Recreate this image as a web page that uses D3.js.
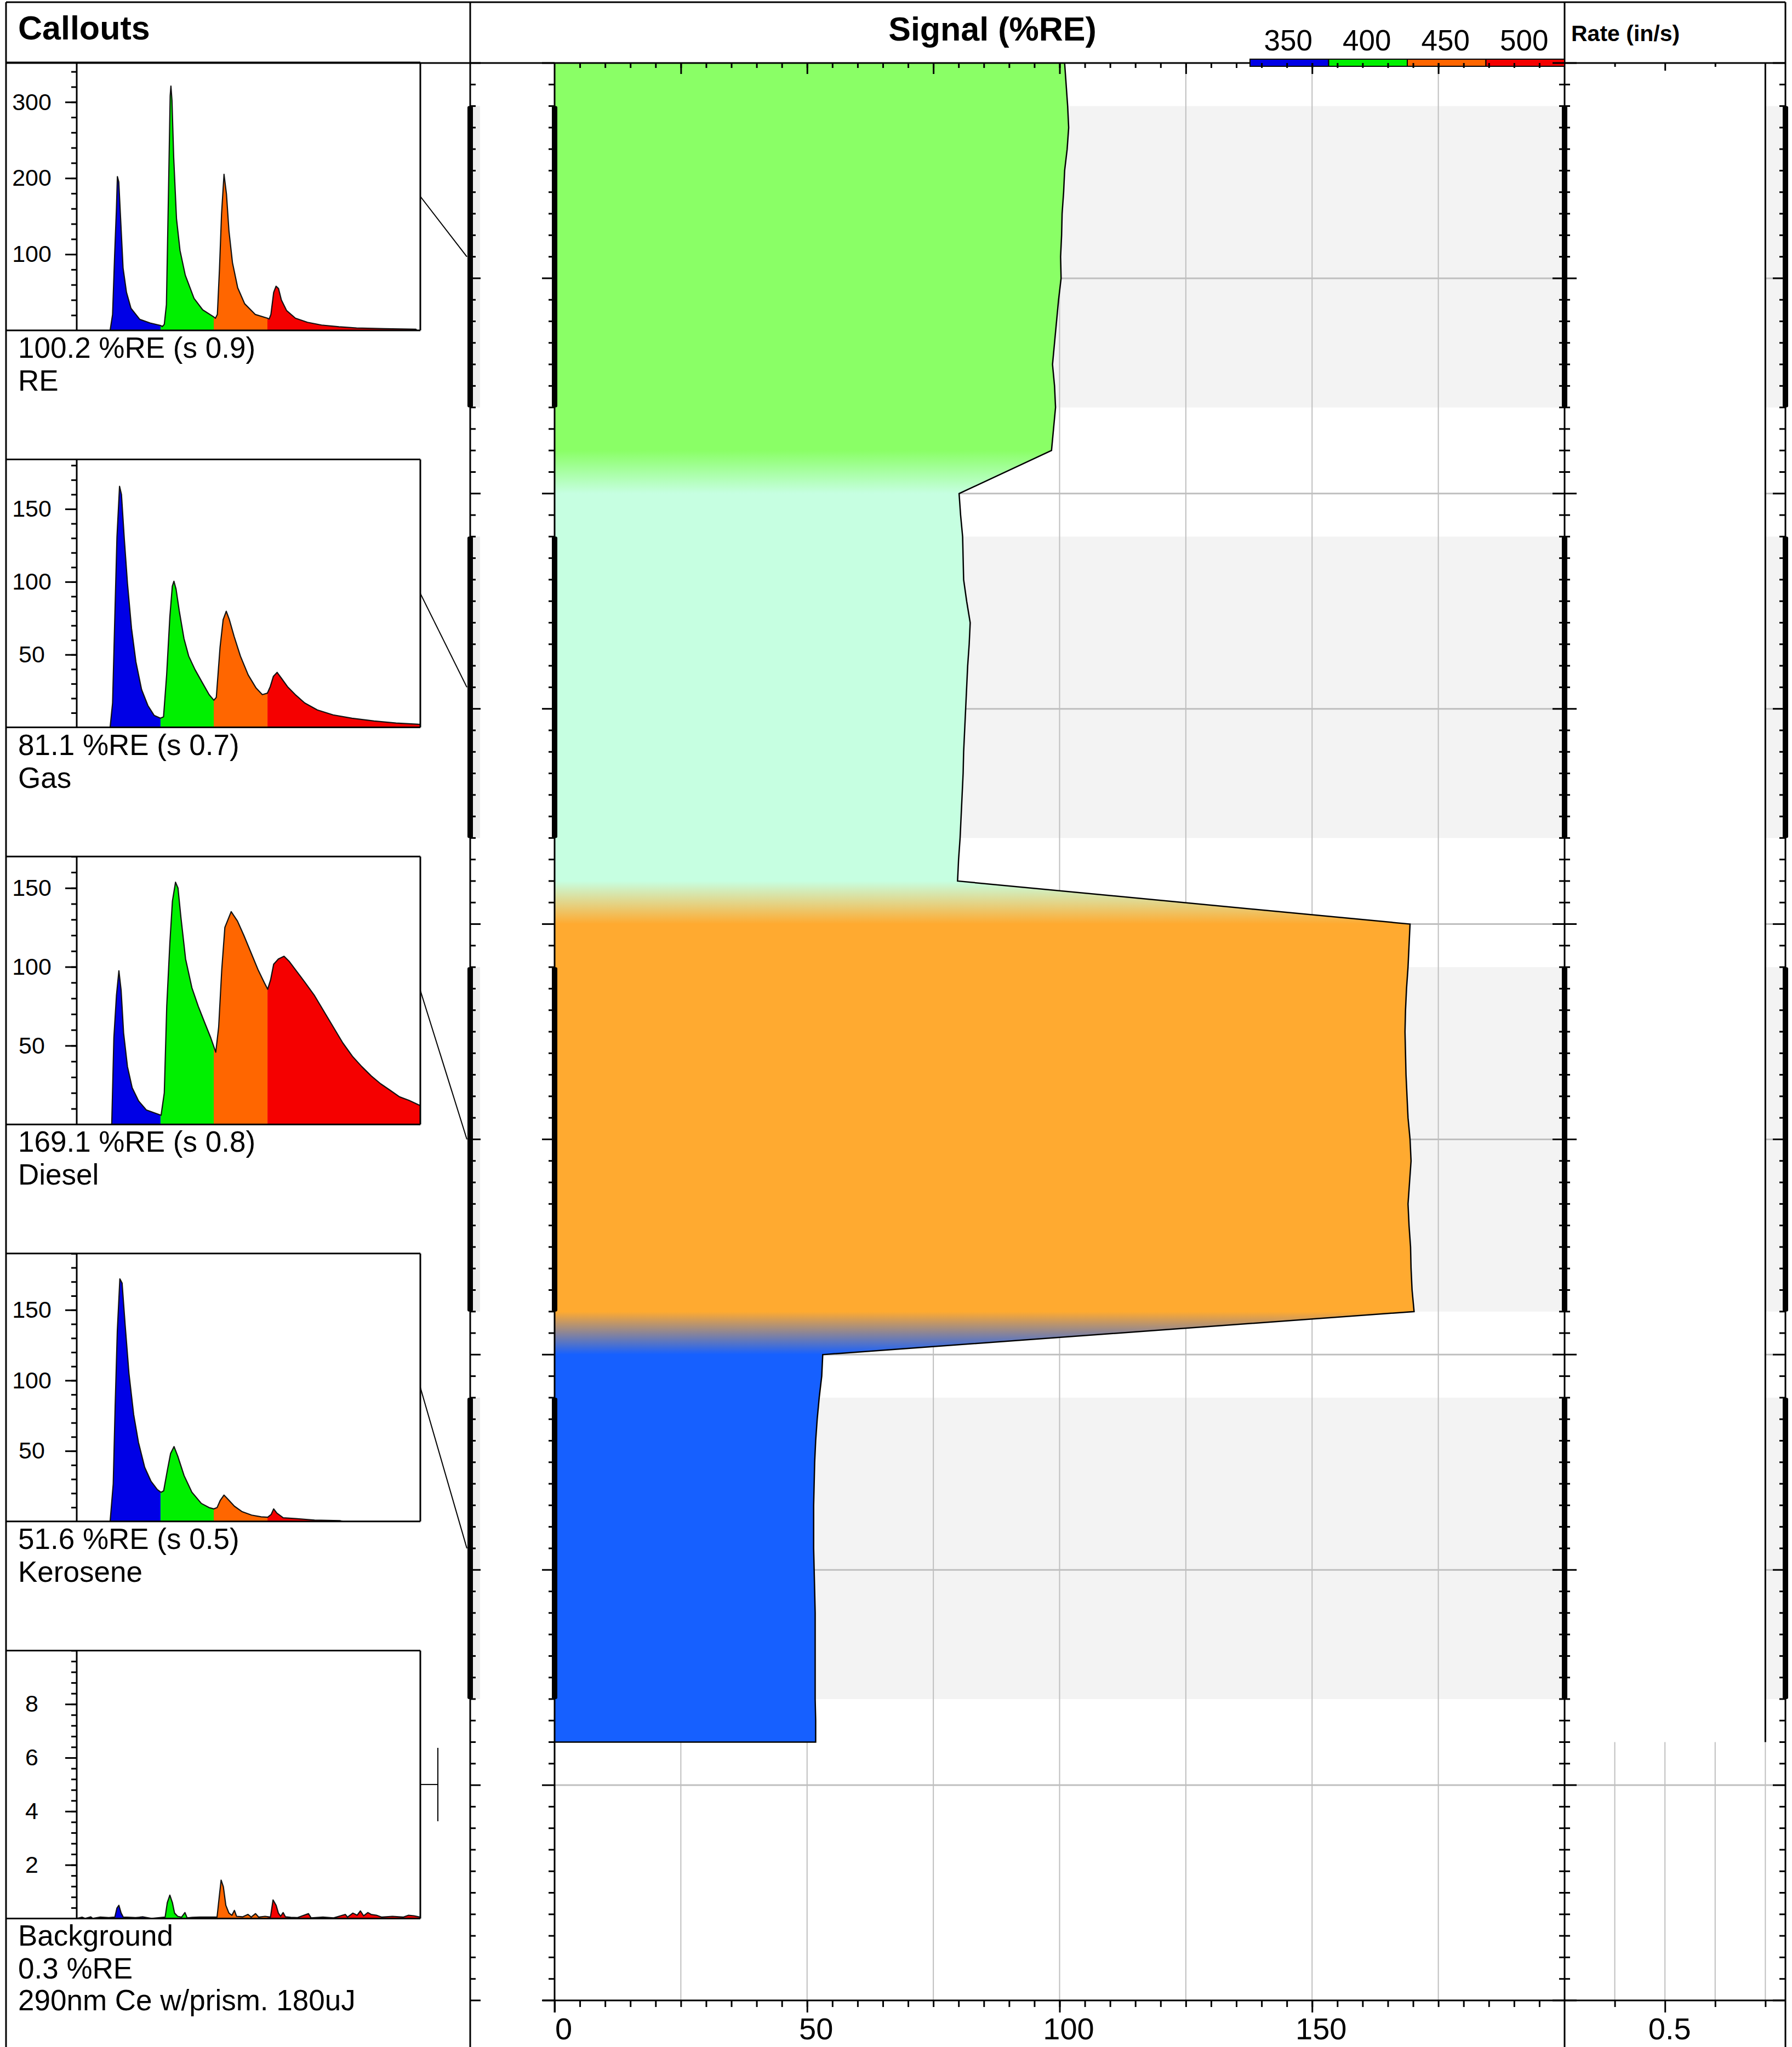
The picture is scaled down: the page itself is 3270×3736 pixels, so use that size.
<!DOCTYPE html>
<html>
<head>
<meta charset="utf-8">
<script src="https://cdn.jsdelivr.net/npm/d3@7"></script>
<style>
  html, body { margin: 0; padding: 0; background: #fff; }
  svg { display: block; font-family: "Liberation Sans", Arial, sans-serif; }
</style>
</head>
<body>
<svg id="chart" width="3270" height="3736"></svg>
<script>
// ---------------- data ----------------
// Signal log: depth index and %RE response
const signalDepths = [
  0,1,2,3,4,5,6,7,8,9,10,11,12,13,14,15,16,17,18,
  20,21,22,23,24,25,26,27,28,29,30,31,32,33,34,35,36,37,38,
  40,41,42,43,44,45,46,47,48,49,50,51,52,53,54,55,56,57,58,
  60,61,62,63,64,65,66,67,68,69,70,71,72,73,74,75,76,77,78
];
const signalValues = [
  101.0,101.3,101.6,101.8,101.5,101.0,100.8,100.5,100.4,100.2,100.3,99.8,99.4,99.0,98.6,99.0,99.2,98.8,98.4,
  80.1,80.4,80.8,80.9,81.0,81.6,82.3,82.1,81.8,81.6,81.4,81.2,81.0,80.9,80.7,80.5,80.3,80.0,79.8,
  169.4,169.2,169.0,168.7,168.5,168.4,168.5,168.6,168.8,169.0,169.4,169.6,169.3,169.0,169.2,169.5,169.6,169.8,170.2,
  53.1,52.9,52.4,52.0,51.7,51.5,51.4,51.3,51.3,51.3,51.4,51.5,51.6,51.6,51.6,51.6,51.6,51.7,51.7
];

// Fluid zones (depth ranges of each product)
const zoneTop    = [0, 20, 40, 60];
const zoneBottom = [18, 38, 58, 78];

// Callout sample intervals and results
const calloutNames  = ["RE", "Gas", "Diesel", "Kerosene"];
const sampleTop     = [2, 22, 42, 62];
const sampleBottom  = [16, 36, 58, 76];
const calloutValues = [100.2, 81.1, 169.1, 51.6];
const calloutSd     = [0.9, 0.7, 0.8, 0.5];
const backgroundValue = 0.3;
const backgroundNote  = "290nm Ce w/prism. 180uJ";

// Rate log
const rateDepths = [0, 78];
const rateValues = [0.7, 0.7];

// Waveform channels
const channelLabels = ["350", "400", "450", "500"];
const channelBreaks = [78.3, 128.0, 178.2];

// Axis tick labels
const signalTickLabels = [0, 50, 100, 150];
const rateTickLabels = [0.5];

// Callout waveforms: [time (ns), amplitude]
const reWave = [[31.2,0],[33.5,21],[35.4,98],[37.1,160],[38.0,202],[39.3,195],[41.0,147],[43.3,82],[46.5,50],[50.7,29],[58.9,14.5],[68.6,9.7],[78.3,6.5],[80.0,5],
  [81.8,8],[83.8,34],[85.7,179],[87.3,308],[88.0,321],[89.0,302],[90.6,227],[93.2,147],[96.5,105],[101.4,72.6],[109.6,42],[117.7,27],[128.0,17.7],[129.6,16],
  [131.4,21],[133.4,82],[135.3,153],[137.6,205],[139.9,179],[142.2,131],[145.5,89],[150.4,56],[156.9,35],[166.7,21],[178.2,16],[179.8,15],
  [181.4,21],[184.0,50],[186.2,58],[188.5,55],[191.2,40],[196.1,26],[204.3,16],[215.6,10.6],[228.7,7],[245.0,4.8],[261.4,3.2],[287.5,2.3],[316.9,1.6],[317.5,0]];

const gasWave = [[31.2,0],[33.5,16.8],[35.6,76],[37.6,131],[40.0,165.6],[41.8,160],[44.5,129],[47.4,99],[51.2,68],[55.3,45],[60.6,26],[66.5,15],[72.4,8.2],[78.2,6.3],
  [81.1,7.3],[84.0,36],[87.0,76],[89.3,97],[90.8,100.4],[92.8,95],[95.8,80],[100.2,61],[104.6,49],[110.5,39.7],[117.9,30],[123.7,22.5],[128.1,18.7],
  [130.4,20.6],[133.9,55],[136.8,74],[139.7,79.8],[142.6,74],[147.0,62.6],[152.9,49],[160.2,36],[167.6,27],[173.4,22.5],[178.1,23.5],
  [180.8,28],[183.7,35],[187.2,37.8],[191.0,34],[196.9,28],[204.2,22.5],[213.0,16.8],[224.8,12],[239.5,8.6],[257.2,6.3],[277.8,4.4],[298.3,3],[321.0,2.1]];

const dieselWave = [[32.7,0],[34.7,55],[37.1,81.7],[39.4,97.5],[41.5,85],[43.8,58],[47.4,36.7],[51.8,23.3],[57.7,15],[65.0,9.2],[75.3,6.7],[78.8,5.8],
  [81.8,20],[84.1,75],[87.0,115],[89.4,141.7],[92.3,153.7],[94.6,150],[97.3,131.7],[101.7,105],[107.6,86.7],[113.5,75],[119.3,65],[125.2,55],[129.9,45.8],
  [132.6,61.7],[135.5,98.3],[138.4,125],[144.3,135],[150.2,129],[156.1,120],[163.4,108],[169.3,98.3],[175.2,90],[178.4,85.8],
  [181.1,91.7],[184.0,101.7],[188.4,105],[193.7,106.7],[198.7,103.3],[206.0,96.7],[213.4,90],[222.2,81.7],[231.0,71.7],[239.8,61.7],[248.6,51.7],
  [257.5,43.3],[266.3,36.7],[275.1,30.8],[283.9,25.8],[292.7,21.7],[301.6,17.5],[310.4,15.3],[319.2,12.5],[321.0,12]];

const keroseneWave = [[31.2,0],[34.1,26.6],[35.9,81.7],[37.9,134.8],[40.3,172],[42.4,169],[45.3,138.8],[48.8,105],[53.2,75.8],[57.7,56],[63.5,38.4],[69.4,28.5],[75.3,22.6],[78.8,20.7],
  [81.2,21.7],[84.7,36.4],[87.7,48.2],[90.9,53.1],[94.4,46.3],[100.3,32.5],[107.6,20.7],[116.4,12.8],[123.7,9.8],[128.1,8.9],
  [131.1,9.8],[134.0,14.8],[137.6,18.7],[141.4,15.7],[147.3,10.8],[154.6,6.9],[163.4,4.5],[172.3,3.3],[178.4,3],
  [181.6,4.9],[184.0,8.9],[187.0,5.9],[192.9,2.6],[204.6,2],[222.2,1],[245.8,0.6],[248.3,0]];

const backgroundWave = [[0,0],[5,0.05],[8,0],[13,0.06],[15,0],[22,0.05],[30,0.03],[35.6,0.05],[37.6,0.39],[39.4,0.49],[41.5,0.2],[43.5,0.05],[50,0.04],[55,0.03],[62,0.06],[70,0],
  [82.6,0.05],[84.6,0.59],[87.0,0.87],[89.4,0.59],[91.4,0.2],[94.3,0.08],[98,0.05],[101.1,0.22],[103.2,0.02],[108,0.04],[115,0.05],[125,0.05],
  [131.1,0.05],[133.1,0.79],[134.9,1.43],[137.0,1.18],[139.3,0.49],[142.2,0.2],[145,0.12],[147.3,0.3],[149.3,0.08],[155,0.06],[160,0.15],[163,0.05],[167,0.18],[170,0.05],[176,0.08],
  [181.0,0.05],[183.4,0.69],[186.3,0.49],[188.4,0.2],[190.5,0.08],[192.8,0.22],[195,0.06],[200,0.04],[206,0.03],[216.5,0.18],[219,0.02],[230,0.05],[240,0.02],
  [251,0.15],[253,0.05],[258,0.2],[262,0.12],[265,0.28],[268,0.1],[272,0.22],[275,0.15],[280,0.12],[285,0.05],[295,0.08],[305,0.05],[310,0.12],[315,0.1],[321,0.05]];

// ---------------- styles & layout ----------------
const zoneColors    = ["#8aff66", "#c6ffe1", "#ffaa30", "#1660ff"];
const channelColors = ["#0000e6", "#00f000", "#ff6600", "#f50000"];
const gridColor  = "#bfbfbf";
const shadeColor = "#f3f3f3";
const FONT = '"Liberation Sans", Arial, sans-serif';

const W = 3270, H = 3736;
const frameLeft = 11, frameTop = 4, frameRight = 3258;
const headerBottom = 115;
const calloutRight = 858;
const signalLeft = 1012, signalRight = 2855, rateRight = 3258;
const plotBottom = 3651;

const svg = d3.select("#chart");
const defs = svg.append("defs");
svg.append("rect").attr("width", W).attr("height", H).attr("fill", "#fff");

// ---------------- scales ----------------
const x  = d3.scaleLinear().domain([0, 200]).range([signalLeft, signalRight]);
const y  = d3.scaleLinear().domain([0, 90]).range([headerBottom, plotBottom]);
const xr = d3.scaleLinear().domain([0.3, 0.74]).range([signalRight, rateRight]);

// ---------------- sample shading ----------------
const shade = svg.append("g");
sampleTop.forEach((t, i) => {
  const b = sampleBottom[i];
  shade.append("rect").attr("x", signalLeft).attr("y", y(t))
    .attr("width", signalRight - signalLeft).attr("height", y(b) - y(t)).attr("fill", shadeColor);
  shade.append("rect").attr("x", signalRight).attr("y", y(t))
    .attr("width", rateRight - signalRight).attr("height", y(b) - y(t)).attr("fill", shadeColor);
  shade.append("rect").attr("x", calloutRight + 4).attr("y", y(t))
    .attr("width", 14).attr("height", y(b) - y(t)).attr("fill", "#ececec");
});

// ---------------- grid ----------------
const grid = svg.append("g").attr("stroke", gridColor).attr("stroke-width", 2);
d3.range(25, 200, 25).forEach(v => {
  grid.append("line").attr("x1", x(v)).attr("x2", x(v)).attr("y1", headerBottom).attr("y2", plotBottom);
});
[0.4, 0.5, 0.6, 0.7].forEach(v => {
  grid.append("line").attr("x1", xr(v)).attr("x2", xr(v)).attr("y1", headerBottom).attr("y2", plotBottom);
});
d3.range(10, 90, 10).forEach(d => {
  grid.append("line").attr("x1", signalLeft).attr("x2", rateRight).attr("y1", y(d)).attr("y2", y(d))
    .attr("stroke-width", 3);
});

// ---------------- signal fill ----------------
const grad = defs.append("linearGradient").attr("id", "fluidGrad")
  .attr("gradientUnits", "userSpaceOnUse")
  .attr("x1", 0).attr("x2", 0).attr("y1", y(0)).attr("y2", y(78));
zoneTop.forEach((t, i) => {
  grad.append("stop").attr("offset", t / 78).attr("stop-color", zoneColors[i]);
  grad.append("stop").attr("offset", zoneBottom[i] / 78).attr("stop-color", zoneColors[i]);
});

const signalData = signalDepths.map((d, i) => ({ d, v: signalValues[i] }));
const signalArea = d3.area().y(p => y(p.d)).x0(() => x(0)).x1(p => x(p.v));
svg.append("path").datum(signalData).attr("d", signalArea).attr("fill", "url(#fluidGrad)");

const last = signalData[signalData.length - 1];
const signalLine = d3.line().x(p => x(p.v)).y(p => y(p.d));
svg.append("path").datum(signalData.concat([{ d: last.d, v: 0 }]))
  .attr("d", signalLine).attr("fill", "none").attr("stroke", "#000")
  .attr("stroke-width", 2.5).attr("stroke-linejoin", "miter");

// ---------------- rate track ----------------
const rateData = rateDepths.map((d, i) => ({ d, v: rateValues[i] }));
svg.append("path").datum(rateData)
  .attr("d", d3.area().y(p => y(p.d)).x0(() => xr(0.3) + 2).x1(p => xr(p.v)))
  .attr("fill", "#fff");
svg.append("path").datum(rateData)
  .attr("d", d3.line().x(p => xr(p.v)).y(p => y(p.d)))
  .attr("stroke", "#000").attr("stroke-width", 3).attr("fill", "none");

// ---------------- frame & header ----------------
const frame = svg.append("g").attr("stroke", "#000").attr("stroke-width", 3);
frame.append("line").attr("x1", frameLeft).attr("x2", frameRight).attr("y1", frameTop).attr("y2", frameTop);
frame.append("line").attr("x1", frameLeft).attr("x2", frameRight).attr("y1", headerBottom).attr("y2", headerBottom);
frame.append("line").attr("x1", frameLeft).attr("x2", frameLeft).attr("y1", frameTop).attr("y2", H);
frame.append("line").attr("x1", calloutRight).attr("x2", calloutRight).attr("y1", frameTop).attr("y2", H);
frame.append("line").attr("x1", signalLeft).attr("x2", signalLeft).attr("y1", headerBottom).attr("y2", plotBottom + 22);
frame.append("line").attr("x1", signalRight).attr("x2", signalRight).attr("y1", frameTop).attr("y2", H);
frame.append("line").attr("x1", rateRight).attr("x2", rateRight).attr("y1", frameTop).attr("y2", H);
frame.append("line").attr("x1", signalLeft - 22).attr("x2", rateRight).attr("y1", plotBottom).attr("y2", plotBottom);

svg.append("text").attr("x", 33).attr("y", 72).attr("font-size", 61).attr("font-weight", "bold")
  .attr("font-family", FONT).text("Callouts");
svg.append("text").attr("x", 1811).attr("y", 74).attr("font-size", 61).attr("font-weight", "bold")
  .attr("text-anchor", "middle").attr("font-family", FONT).text("Signal (%RE)");
svg.append("text").attr("x", 2867).attr("y", 75).attr("font-size", 41).attr("font-weight", "bold")
  .attr("font-family", FONT).text("Rate (in/s)");

// channel legend
const legendX = d3.scaleBand().domain(channelLabels).range([2281, signalRight]).padding(0);
const legend = svg.append("g");
channelLabels.forEach((lab, i) => {
  legend.append("rect").attr("x", legendX(lab)).attr("y", 108).attr("width", legendX.bandwidth()).attr("height", 13)
    .attr("fill", channelColors[i]).attr("stroke", "#000").attr("stroke-width", 2);
  legend.append("text").attr("x", legendX(lab) + legendX.bandwidth() / 2 - 2).attr("y", 92)
    .attr("text-anchor", "middle").attr("font-size", 53).attr("font-family", FONT).text(lab);
});

// ---------------- depth ticks & sample bars ----------------
const ticks = svg.append("g").attr("stroke", "#000").attr("stroke-width", 3);
d3.range(0, 91, 1).forEach(d => {
  const major = d % 10 === 0;
  const yy = y(d);
  ticks.append("line").attr("x1", calloutRight).attr("x2", calloutRight + (major ? 19 : 10)).attr("y1", yy).attr("y2", yy);
  ticks.append("line").attr("x1", signalLeft - (major ? 23 : 11)).attr("x2", signalLeft).attr("y1", yy).attr("y2", yy);
  ticks.append("line").attr("x1", signalRight - (major ? 22 : 10)).attr("x2", signalRight + (major ? 22 : 10)).attr("y1", yy).attr("y2", yy);
  ticks.append("line").attr("x1", rateRight - (major ? 23 : 11)).attr("x2", rateRight).attr("y1", yy).attr("y2", yy);
});
const bars = svg.append("g").attr("fill", "#000");
sampleTop.forEach((t, i) => {
  const b = sampleBottom[i];
  [calloutRight, signalLeft, signalRight, rateRight].forEach(ax => {
    bars.append("rect").attr("x", ax - 5).attr("y", y(t)).attr("width", 10).attr("height", y(b) - y(t)).attr("rx", 3);
  });
});

// ---------------- top & bottom axes ----------------
function styleAxis(g) {
  g.select(".domain").remove();
  g.selectAll(".tick line").attr("stroke", "#000").attr("stroke-width", 3);
}
svg.append("g").attr("transform", `translate(0,${headerBottom})`)
  .call(d3.axisBottom(x).tickValues(d3.range(5, 200, 5)).tickSize(9).tickFormat(""))
  .call(styleAxis);
svg.append("g").attr("transform", `translate(0,${headerBottom})`)
  .call(d3.axisBottom(x).tickValues(d3.range(25, 200, 25)).tickSize(20).tickFormat(""))
  .call(styleAxis);
svg.append("g").attr("transform", `translate(0,${headerBottom})`)
  .call(d3.axisBottom(xr).tickValues([0.4, 0.6]).tickSize(7).tickFormat(""))
  .call(styleAxis);
svg.append("g").attr("transform", `translate(0,${headerBottom})`)
  .call(d3.axisBottom(xr).tickValues([0.5]).tickSize(14).tickFormat(""))
  .call(styleAxis);

svg.append("g").attr("transform", `translate(0,${plotBottom})`)
  .call(d3.axisBottom(x).tickValues(d3.range(0, 200, 5)).tickSize(12).tickFormat(""))
  .call(styleAxis);
const bottomAxis = svg.append("g").attr("transform", `translate(0,${plotBottom})`)
  .call(d3.axisBottom(x).tickValues(signalTickLabels).tickSize(22).tickFormat(d3.format("d")))
  .call(styleAxis);
bottomAxis.selectAll("text").attr("y", 71).attr("dy", null).attr("x", 16)
  .attr("font-size", 56).attr("font-family", FONT).attr("fill", "#000");

svg.append("g").attr("transform", `translate(0,${plotBottom})`)
  .call(d3.axisBottom(xr).tickValues([0.4, 0.6, 0.7]).tickSize(12).tickFormat(""))
  .call(styleAxis);
const rateAxis = svg.append("g").attr("transform", `translate(0,${plotBottom})`)
  .call(d3.axisBottom(xr).tickValues(rateTickLabels).tickSize(22).tickFormat(d3.format(".1f")))
  .call(styleAxis);
rateAxis.selectAll("text").attr("y", 71).attr("dy", null).attr("x", 8)
  .attr("font-size", 56).attr("font-family", FONT).attr("fill", "#000");

// ---------------- callout panels ----------------
const boxLeft = frameLeft, boxPlotLeft = 140, boxRight = 767;
const boxTop0 = 114, boxStep = 724.6, boxHeight = 489;
const t = d3.scaleLinear().domain([0, 321]).range([boxPlotLeft, boxRight]);

const waves = [reWave, gasWave, dieselWave, keroseneWave, backgroundWave];
const yMax = [352, 184, 170, 190, 10];
const yLabels = [[100, 200, 300], [50, 100, 150], [50, 100, 150], [50, 100, 150], [2, 4, 6, 8]];
const yMinorStep = [20, 10, 10, 10, 0.4];
const channelEdges = [0].concat(channelBreaks, [321]);

waves.forEach((wave, k) => {
  const top = boxTop0 + k * boxStep;
  const bottom = top + boxHeight;
  const ys = d3.scaleLinear().domain([0, yMax[k]]).range([bottom, top]);
  const g = svg.append("g");

  const area = d3.area().x(p => t(p[0])).y0(bottom).y1(p => ys(p[1]));
  const line = d3.line().x(p => t(p[0])).y(p => ys(p[1]));

  channelColors.forEach((col, c) => {
    const id = `clip-${k}-${c}`;
    defs.append("clipPath").attr("id", id).append("rect")
      .attr("x", t(channelEdges[c])).attr("y", top)
      .attr("width", t(channelEdges[c + 1]) - t(channelEdges[c])).attr("height", boxHeight);
    g.append("path").datum(wave).attr("d", area).attr("fill", col).attr("clip-path", `url(#${id})`);
  });
  g.append("path").datum(wave).attr("d", line).attr("fill", "none")
    .attr("stroke", "#111").attr("stroke-width", 2.2).attr("stroke-linejoin", "round");

  // y axis ticks
  const nMinor = Math.floor(yMax[k] / yMinorStep[k] + 1e-6);
  const minor = d3.range(1, nMinor + 1).map(i => +(i * yMinorStep[k]).toFixed(2));
  g.append("g").attr("transform", `translate(${boxPlotLeft},0)`)
    .call(d3.axisLeft(ys).tickValues(minor).tickSize(10).tickFormat(""))
    .call(styleAxis);
  const ax = g.append("g").attr("transform", `translate(${boxPlotLeft},0)`)
    .call(d3.axisLeft(ys).tickValues(yLabels[k]).tickSize(21).tickFormat(d3.format("d")))
    .call(styleAxis);
  ax.selectAll("text").attr("x", 58 - boxPlotLeft).attr("text-anchor", "middle")
    .attr("font-size", 43).attr("font-family", FONT).attr("fill", "#000");

  // panel border
  const b = g.append("g").attr("stroke", "#000").attr("stroke-width", 3);
  b.append("line").attr("x1", boxLeft).attr("x2", boxRight).attr("y1", top).attr("y2", top);
  b.append("line").attr("x1", boxLeft).attr("x2", boxRight).attr("y1", bottom).attr("y2", bottom);
  b.append("line").attr("x1", boxRight).attr("x2", boxRight).attr("y1", top).attr("y2", bottom);
  b.append("line").attr("x1", boxPlotLeft).attr("x2", boxPlotLeft).attr("y1", top).attr("y2", bottom);

  // caption and leader
  const mid = (top + bottom) / 2;
  let lines;
  if (k < calloutNames.length) {
    lines = [`${calloutValues[k].toFixed(1)} %RE (s ${calloutSd[k].toFixed(1)})`, calloutNames[k]];
    const md = (sampleTop[k] + sampleBottom[k]) / 2;
    svg.append("line").attr("x1", boxRight).attr("y1", mid).attr("x2", calloutRight - 6).attr("y2", y(md))
      .attr("stroke", "#000").attr("stroke-width", 2);
  } else {
    lines = ["Background", `${backgroundValue.toFixed(1)} %RE`, backgroundNote];
    svg.append("line").attr("x1", boxRight).attr("y1", mid).attr("x2", 799).attr("y2", mid)
      .attr("stroke", "#000").attr("stroke-width", 2);
    svg.append("line").attr("x1", 799).attr("y1", mid - 67).attr("x2", 799).attr("y2", mid + 67)
      .attr("stroke", "#000").attr("stroke-width", 2);
  }
  const offsets = [50, 110, 168];
  lines.forEach((txt, i) => {
    svg.append("text").attr("x", 33).attr("y", bottom + offsets[i]).attr("font-size", 53)
      .attr("font-family", FONT).attr("fill", "#000").text(txt);
  });
});
</script>
</body>
</html>
